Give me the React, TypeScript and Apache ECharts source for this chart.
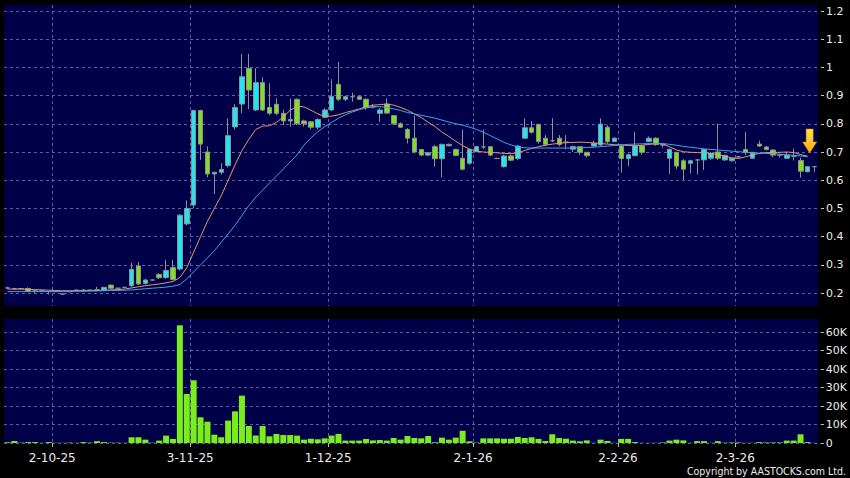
import React, { useEffect, useRef } from "react";
import * as echarts from "echarts";

// ---- trading days (day numbers per month) ----
const sep25 = [22, 23, 24, 25, 26, 29, 30];
const oct25 = [2, 3, 6, 8, 9, 10, 13, 14, 15, 16, 17, 20, 21, 22, 23, 24, 27, 28, 30, 31];
const nov25 = [3, 4, 5, 6, 7, 10, 11, 12, 13, 14, 17, 18, 19, 20, 21, 24, 25, 26, 27, 28];
const dec25 = [1, 2, 3, 4, 5, 8, 9, 10, 11, 12, 15, 16, 17, 18, 19, 22, 23, 24, 29, 30, 31];
const jan26 = [2, 5, 6, 7, 8, 9, 12, 13, 14, 15, 16, 19, 20, 21, 22, 23, 26, 27, 28, 29, 30];
const feb26 = [2, 3, 4, 5, 6, 9, 10, 11, 12, 13, 16, 20, 23, 24, 25, 26, 27];
const mar26 = [2, 3, 4, 5, 6, 9, 10, 11, 12, 13, 16, 17];

const tickLabels = ["2-10-25", "3-11-25", "1-12-25", "2-1-26", "2-2-26", "2-3-26"];

// [open, close, low, high]
const ohlc = [
  [0.218, 0.218, 0.214, 0.222], [0.215, 0.215, 0.212, 0.218], [0.215, 0.216, 0.212, 0.218], [0.216, 0.205, 0.203, 0.22],
  [0.207, 0.207, 0.2, 0.21], [0.207, 0.207, 0.205, 0.209], [0.205, 0.205, 0.195, 0.207], [0.205, 0.205, 0.203, 0.207],
  [0.196, 0.196, 0.195, 0.2], [0.205, 0.205, 0.203, 0.207], [0.21, 0.21, 0.208, 0.211], [0.21, 0.21, 0.207, 0.213],
  [0.21, 0.21, 0.209, 0.211], [0.212, 0.212, 0.21, 0.222], [0.211, 0.22, 0.21, 0.222], [0.228, 0.217, 0.215, 0.23],
  [0.217, 0.217, 0.216, 0.218], [0.22, 0.22, 0.218, 0.222], [0.226, 0.284, 0.222, 0.307], [0.296, 0.232, 0.228, 0.31],
  [0.234, 0.246, 0.23, 0.25], [0.246, 0.246, 0.244, 0.248], [0.266, 0.254, 0.25, 0.27], [0.255, 0.28, 0.25, 0.318],
  [0.29, 0.248, 0.245, 0.318], [0.285, 0.476, 0.28, 0.48], [0.445, 0.5, 0.44, 0.528], [0.512, 0.847, 0.5, 0.85],
  [0.847, 0.728, 0.672, 0.85], [0.7, 0.622, 0.61, 0.72], [0.622, 0.628, 0.551, 0.63], [0.628, 0.638, 0.62, 0.66],
  [0.652, 0.758, 0.645, 0.819], [0.789, 0.858, 0.78, 0.87], [0.87, 0.967, 0.838, 1.048], [0.996, 0.92, 0.852, 1.048],
  [0.849, 0.946, 0.845, 0.997], [0.946, 0.849, 0.845, 0.965], [0.858, 0.837, 0.83, 0.944], [0.869, 0.837, 0.83, 0.89],
  [0.837, 0.81, 0.795, 0.85], [0.81, 0.815, 0.79, 0.89], [0.887, 0.8, 0.795, 0.89], [0.81, 0.8, 0.79, 0.815],
  [0.807, 0.788, 0.78, 0.81], [0.788, 0.815, 0.78, 0.82], [0.823, 0.849, 0.82, 0.855], [0.849, 0.897, 0.845, 0.958],
  [0.94, 0.887, 0.88, 1.019], [0.887, 0.896, 0.88, 0.9], [0.896, 0.896, 0.878, 0.91], [0.896, 0.887, 0.885, 0.9],
  [0.887, 0.858, 0.85, 0.89], [0.86, 0.86, 0.855, 0.87], [0.837, 0.849, 0.807, 0.855], [0.87, 0.838, 0.835, 0.89],
  [0.829, 0.8, 0.795, 0.83], [0.8, 0.788, 0.785, 0.805], [0.78, 0.749, 0.73, 0.785], [0.749, 0.7, 0.695, 0.83],
  [0.709, 0.689, 0.685, 0.71], [0.689, 0.697, 0.685, 0.7], [0.719, 0.676, 0.648, 0.725], [0.676, 0.727, 0.61, 0.73],
  [0.722, 0.727, 0.72, 0.73], [0.709, 0.688, 0.685, 0.712], [0.678, 0.639, 0.635, 0.78], [0.66, 0.709, 0.655, 0.712],
  [0.701, 0.719, 0.7, 0.722], [0.718, 0.718, 0.71, 0.78], [0.719, 0.689, 0.685, 0.72], [0.677, 0.677, 0.675, 0.68],
  [0.648, 0.686, 0.645, 0.69], [0.686, 0.671, 0.668, 0.69], [0.677, 0.721, 0.672, 0.725], [0.749, 0.786, 0.745, 0.819],
  [0.786, 0.77, 0.765, 0.81], [0.798, 0.737, 0.73, 0.8], [0.749, 0.727, 0.72, 0.76], [0.74, 0.74, 0.735, 0.82],
  [0.749, 0.727, 0.72, 0.76], [0.735, 0.735, 0.71, 0.76], [0.71, 0.719, 0.7, 0.722], [0.719, 0.699, 0.69, 0.72],
  [0.699, 0.687, 0.68, 0.7], [0.721, 0.731, 0.718, 0.74], [0.725, 0.799, 0.72, 0.819], [0.788, 0.737, 0.73, 0.795],
  [0.737, 0.749, 0.735, 0.752], [0.721, 0.677, 0.627, 0.725], [0.677, 0.69, 0.65, 0.695], [0.687, 0.722, 0.685, 0.772],
  [0.722, 0.699, 0.69, 0.725], [0.737, 0.749, 0.735, 0.755], [0.749, 0.727, 0.722, 0.752], [0.725, 0.725, 0.715, 0.728],
  [0.678, 0.709, 0.622, 0.712], [0.699, 0.65, 0.64, 0.7], [0.669, 0.639, 0.6, 0.675], [0.66, 0.669, 0.624, 0.672],
  [0.672, 0.672, 0.62, 0.675], [0.672, 0.709, 0.636, 0.712], [0.678, 0.695, 0.672, 0.7], [0.7, 0.678, 0.672, 0.8],
  [0.672, 0.688, 0.668, 0.69], [0.669, 0.678, 0.665, 0.68], [0.683, 0.683, 0.68, 0.686], [0.709, 0.699, 0.69, 0.77],
  [0.678, 0.699, 0.675, 0.7], [0.728, 0.721, 0.718, 0.74], [0.718, 0.709, 0.705, 0.72], [0.707, 0.689, 0.682, 0.71],
  [0.689, 0.689, 0.68, 0.692], [0.678, 0.689, 0.675, 0.7], [0.685, 0.685, 0.67, 0.712], [0.67, 0.632, 0.609, 0.68],
  [0.63, 0.648, 0.628, 0.65], [0.648, 0.648, 0.63, 0.65],
];

// volume in thousands of shares
const volumeK = [
  0.4, 1.1, 0.2, 0.5, 0.5, 0.1, 0.5, 0.1, 0.1, 0.2, 0.1, 0.5, 0.2, 1.0, 0.5, 0.2, 0.2, 0.1,
  3.1, 3.1, 1.8, 0.2, 1.3, 4.0, 2.2, 63.6, 26.5, 33.9, 13.9, 11.5, 4.5, 3.1, 12.1, 17.1, 25.6, 9.2,
  4.0, 9.2, 3.6, 4.9, 4.3, 4.3, 4.0, 1.8, 2.3, 2.0, 2.5, 4.0, 4.9, 1.3, 1.3, 1.3, 2.2, 1.4,
  1.6, 1.3, 2.7, 1.8, 3.8, 2.7, 2.5, 3.8, 0.4, 2.9, 1.8, 2.9, 6.6, 0.9, 0.2, 2.5, 2.5, 2.5,
  2.3, 2.3, 3.3, 2.7, 3.1, 2.2, 1.1, 4.7, 2.7, 2.3, 1.3, 0.9, 1.4, 0.1, 1.8, 1.1, 0.1, 2.2,
  2.2, 0.5, 0.1, 0.1, 0.1, 0.3, 1.3, 1.8, 1.4, 0.1, 1.0, 1.0, 0.1, 1.0, 0.2, 0.3, 0.3, 0.1,
  0.1, 0.5, 0.3, 0.3, 0.3, 1.3, 1.3, 4.7, 0.5, 0.1,
];

const maShort = [
  0.214, 0.214, 0.214, 0.213, 0.212, 0.211, 0.21, 0.209, 0.208, 0.208, 0.208, 0.208, 0.208, 0.209, 0.21, 0.211, 0.212, 0.214,
  0.218, 0.222, 0.226, 0.229, 0.232, 0.236, 0.241, 0.255, 0.29, 0.345, 0.4, 0.455, 0.5, 0.545, 0.6, 0.655, 0.705, 0.745,
  0.78, 0.792, 0.793, 0.805, 0.825, 0.848, 0.862, 0.86, 0.848, 0.835, 0.826, 0.827, 0.832, 0.84, 0.846, 0.853, 0.86, 0.866,
  0.868, 0.87, 0.866, 0.858, 0.848, 0.835, 0.822, 0.805, 0.79, 0.77, 0.755, 0.738, 0.722, 0.71, 0.703, 0.7, 0.699, 0.697,
  0.695, 0.694, 0.698, 0.705, 0.713, 0.719, 0.724, 0.728, 0.731, 0.733, 0.734, 0.735, 0.734, 0.732, 0.73, 0.728, 0.726, 0.725,
  0.723, 0.722, 0.724, 0.727, 0.729, 0.729, 0.718, 0.707, 0.701, 0.699, 0.698, 0.697, 0.695, 0.69, 0.685, 0.679, 0.677, 0.683,
  0.69, 0.695, 0.698, 0.698, 0.699, 0.7, 0.698, 0.691, 0.685, null,
];

const maLong = [
  0.205, 0.205, 0.205, 0.205, 0.205, 0.205, 0.205, 0.205, 0.205, 0.205, 0.206, 0.206, 0.207, 0.207, 0.208, 0.209, 0.209, 0.21,
  0.211, 0.213, 0.215, 0.217, 0.219, 0.221, 0.224, 0.23, 0.25, 0.275, 0.3, 0.325, 0.35, 0.38, 0.41, 0.44, 0.475, 0.51,
  0.54, 0.565, 0.59, 0.615, 0.64, 0.665, 0.69, 0.725, 0.75, 0.772, 0.79, 0.805, 0.82, 0.832, 0.842, 0.85, 0.856, 0.86,
  0.861, 0.858, 0.853, 0.847, 0.84, 0.835, 0.83, 0.825, 0.82, 0.813, 0.806, 0.8, 0.795, 0.788, 0.78, 0.77, 0.758, 0.746,
  0.734, 0.725, 0.718, 0.715, 0.714, 0.714, 0.714, 0.714, 0.714, 0.714, 0.714, 0.715, 0.716, 0.717, 0.719, 0.721, 0.723, 0.725,
  0.727, 0.728, 0.729, 0.73, 0.73, 0.73, 0.727, 0.724, 0.72, 0.717, 0.714, 0.711, 0.709, 0.707, 0.705, 0.703, 0.701, 0.699,
  0.697, 0.696, 0.695, 0.694, 0.692, 0.69, 0.688, 0.686, 0.683, null,
];

const arrowPrice = 0.739;

// ---- build categories ----
const months: [number[], number, number][] = [
  [sep25, 9, 25], [oct25, 10, 25], [nov25, 11, 25], [dec25, 12, 25],
  [jan26, 1, 26], [feb26, 2, 26], [mar26, 3, 26],
];
const dates: string[] = [];
months.forEach(([days, m, y]) => days.forEach((d) => dates.push(`${d}-${m}-${y}`)));
// slot boundaries: one more than the candles (left edge of each candle + right end)
const edges = [...dates, "end"];

const NAVY = "#000048";
const CYAN = "#22e6ee";
const GREEN = "#7fe020";
const FONT = "DejaVu Sans";
const TEXT = "#ececec";
const gridLine = { color: "#5e5ea6", width: 1, type: [3, 3] as any };
const isTick = (_i: number, v: string) => tickLabels.includes(v);

export default function App() {
  const ref = useRef<HTMLDivElement>(null);
  useEffect(() => {
    const chart = echarts.init(ref.current!, null, { renderer: "svg" });
    const option: any = {
      animation: false,
      backgroundColor: "#000000",
      grid: [
        { left: 4, top: 5, width: 814, height: 301, show: true, backgroundColor: NAVY, borderWidth: 0 },
        { left: 4, top: 11, width: 814, height: 282 },
        { left: 4, top: 319, width: 814, height: 124, show: true, backgroundColor: NAVY, borderWidth: 0 },
        { left: 4, top: 332, width: 814, height: 111 },
      ],
      xAxis: [
        {
          gridIndex: 0, type: "category", data: edges, boundaryGap: false,
          axisLine: { show: false }, axisTick: { show: false }, axisLabel: { show: false },
          splitLine: { show: true, interval: isTick, lineStyle: gridLine },
        },
        { gridIndex: 1, type: "category", data: dates, boundaryGap: true, show: false },
        {
          gridIndex: 2, type: "category", data: edges, boundaryGap: false, offset: 2,
          axisLine: { show: false },
          axisTick: { show: true, interval: isTick, length: 4, lineStyle: { color: "#bbbbbb" } },
          axisLabel: { show: true, interval: isTick, color: TEXT, fontSize: 12, fontFamily: FONT, margin: 7 },
          splitLine: { show: true, interval: isTick, lineStyle: gridLine },
        },
        { gridIndex: 3, type: "category", data: dates, boundaryGap: true, show: false },
      ],
      yAxis: [
        { gridIndex: 0, type: "value", show: false },
        {
          gridIndex: 1, type: "value", min: 0.2, max: 1.2, interval: 0.1, position: "right", offset: 3,
          axisLine: { show: false },
          axisTick: { show: true, length: 3, lineStyle: { color: "#cccccc" } },
          axisLabel: { color: TEXT, fontSize: 11, fontFamily: FONT, margin: 5 },
          splitLine: { show: true, lineStyle: gridLine },
        },
        { gridIndex: 2, type: "value", show: false },
        {
          gridIndex: 3, type: "value", min: 0, max: 60, interval: 10, position: "right", offset: 3,
          axisLine: { show: false },
          axisTick: { show: true, length: 3, lineStyle: { color: "#cccccc" } },
          axisLabel: {
            color: TEXT, fontSize: 11, fontFamily: FONT, margin: 5,
            formatter: (v: number) => (v === 0 ? "0" : `${v}K`),
          },
          splitLine: { show: true, lineStyle: gridLine },
        },
      ],
      series: [
        {
          type: "candlestick", xAxisIndex: 1, yAxisIndex: 1, data: ohlc, barWidth: 5, clip: false,
          itemStyle: { color: CYAN, color0: GREEN, borderColor: "#8c9292", borderColor0: "#8c9292", borderWidth: 1 },
          markPoint: {
            silent: true,
            label: { show: false },
            data: [
              {
                coord: [dates[116], arrowPrice],
                symbol: "path://M3.5,0 L10.5,0 L10.5,13 L14,13 L7,24 L0,13 L3.5,13 Z",
                symbolSize: [14, 24],
                symbolOffset: [2, 0],
                itemStyle: {
                  color: new echarts.graphic.LinearGradient(0, 0, 0, 1, [
                    { offset: 0, color: "#ffe84a" },
                    { offset: 1, color: "#ffa514" },
                  ]),
                  borderColor: "#e08a00", borderWidth: 0.5,
                },
              },
            ],
          },
        },
        {
          type: "line", xAxisIndex: 1, yAxisIndex: 1, data: maShort, symbol: "none",
          lineStyle: { color: "#e8956b", width: 1 }, z: 3,
        },
        {
          type: "line", xAxisIndex: 1, yAxisIndex: 1, data: maLong, symbol: "none",
          lineStyle: { color: "#3ca6f0", width: 1 }, z: 3,
        },
        {
          type: "bar", xAxisIndex: 3, yAxisIndex: 3, data: volumeK, barWidth: 6, clip: false,
          itemStyle: { color: "#7aee1c" },
        },
      ],
      graphic: [
        {
          type: "text", right: 4, top: 465,
          style: {
            text: "Copyright by AASTOCKS.com Ltd.", fill: TEXT,
            font: `10.5px "DejaVu Sans Condensed", "DejaVu Sans"`,
          },
        },
      ],
    };
    chart.setOption(option);
    return () => chart.dispose();
  }, []);
  return (
    <div style={{ position: "fixed", left: 0, top: 0, width: 850, height: 478, background: "#000" }}>
      <div ref={ref} style={{ width: 850, height: 478 }} />
    </div>
  );
}
